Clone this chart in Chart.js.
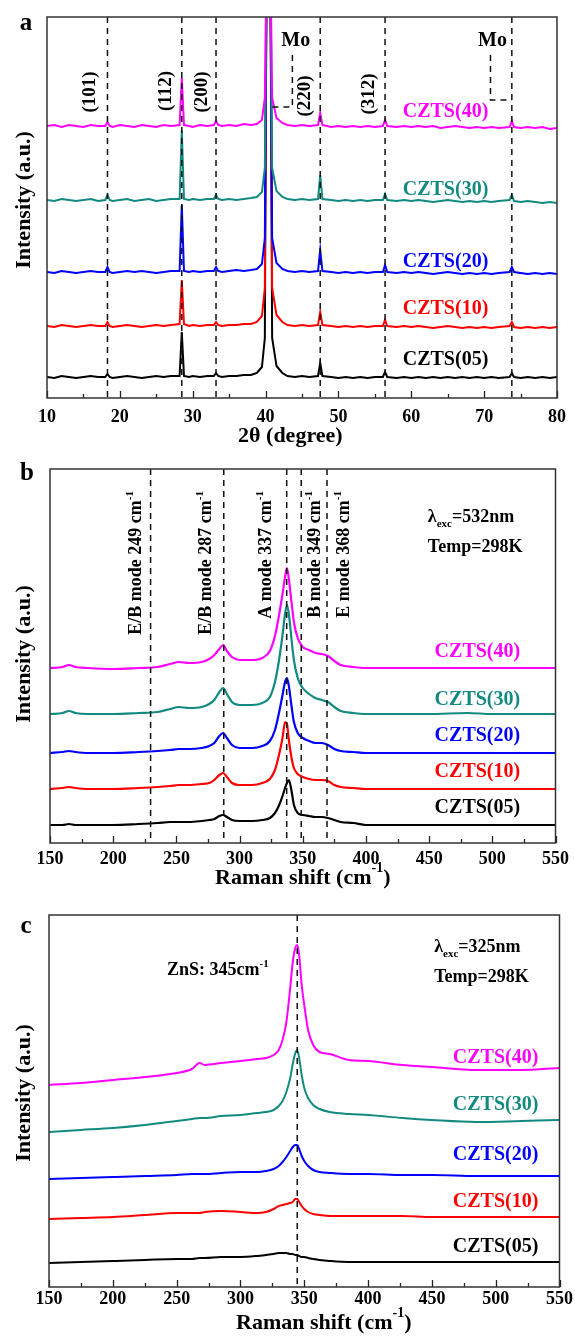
<!DOCTYPE html>
<html>
<head>
<meta charset="utf-8">
<script src="https://cdn.jsdelivr.net/npm/chart.js@4.4.0/dist/chart.umd.min.js"></script>
<style>
  html, body { margin: 0; padding: 0; background: #fff; }
  #wrap { position: relative; width: 575px; height: 1339px; overflow: hidden; }
  canvas { position: absolute; left: 0; }
</style>
</head>
<body>
<div id="wrap">
  <canvas id="xrdChart" width="575" height="450" style="top:0"></canvas>
  <canvas id="raman532Chart" width="575" height="445" style="top:450px"></canvas>
  <canvas id="raman325Chart" width="575" height="444" style="top:895px"></canvas>
</div>
<script>
// ---- shared ----
const samples = ['CZTS(40)', 'CZTS(30)', 'CZTS(20)', 'CZTS(10)', 'CZTS(05)'];
const sampleColors = ['#ff00ff', '#128a80', '#0000ff', '#ff0000', '#000000'];

// ---- (a) XRD ----
const xrdAngle = [10,11,12,13,14,15,16,17,18.0,18.3,18.6,19,20,21,22,23,24,25,26,27,28.2,28.5,28.8,29.5,30,31,32,32.9,33.2,33.5,34,35,36,37,38,38.8,39.5,39.9,40.1,40.4,40.7,40.9,41.5,42.3,43,44,45,46,47.2,47.5,47.8,49,50,51,52,53,54,55,56.1,56.4,56.7,58,59,60,61,62,63,64,65,66,67,68,69,70,71,72,73.5,73.8,74.1,75,76,77,78,79,80];
const xrd40 = [272,273,271,273,272,271,273,272, 272,276,272, 271,273,272,271,273,272,271,273,272, 273,320,273, 272, 271,273,272, 273,277,273, 272,273,272,274,273, 274,278,300,420,620,420,300,280,275, 273,272,273,272, 273,285,273, 271,272,271,272,271,272,271, 272,278,272, 271,272,271,272,271,272,270,271,272,271,270,271,270,271,270, 271,277,271, 270,271,270,271,269,270];
const xrd30 = [198,197,199,198,197,198,199,197, 198,203,198, 197,198,199,197,198,199,197,198,199, 199,268,199, 198, 199,198,199, 199,203,199, 198,199,198,199,200, 201,206,230,400,620,400,230,207,201, 199,198,199,198, 199,223,199, 198,197,198,197,198,197,198, 198,204,198, 197,198,197,198,197,196,197,198,197,196,197,196,197,196,197, 198,203,197, 196,197,196,195,196,195];
const xrd20 = [126,125,127,126,125,126,127,126, 126,131,126, 125,126,127,126,127,126,125,126,127, 127,193,127, 126, 127,126,127, 127,131,127, 126,127,128,127,128, 129,134,160,380,620,380,160,135,129, 127,126,127,126, 127,148,127, 126,125,126,125,126,125,126, 126,133,126, 125,126,125,126,125,124,125,126,125,124,125,124,125,124,125, 126,131,126, 125,124,125,124,125,124];
const xrd10 = [72,71,73,72,71,72,73,72, 72,76,72, 71,72,73,72,71,72,73,72,73, 74,118,74, 72, 73,72,73, 73,76,73, 72,73,73,74,74, 76,82,110,380,620,380,110,83,76, 73,72,73,72, 73,86,73, 72,71,72,71,72,71,72, 72,78,72, 71,72,71,72,71,70,71,72,71,70,71,70,71,70,71, 72,76,71, 70,71,70,71,70,71];
const xrd05 = [21,20,22,21,20,21,22,21, 21,24,21, 20,21,22,21,20,21,22,21,22, 22,66,22, 21, 22,21,22, 22,25,22, 21,22,22,23,23, 25,31,60,380,620,380,60,32,25, 22,21,22,21, 22,35,22, 21,20,21,20,21,20,21, 21,26,21, 20,21,20,21,20,21,20,21,20,21,20,21,20,21,20, 21,25,21, 20,21,20,21,20,21];
const xrdPlanes = [18.3, 28.5, 33.2, 47.5, 56.4, 73.8];
const xrdPlaneLabels = ['(101)', '(112)', '(200)', '(220)', '(312)'];

// ---- (b) Raman, 532 nm ----
const shift532 = [150,160,165,170,180,200,220,235,245,252,260,270,276,280,284,287,290,294,300,310,318,324,328,331,334,336,337.5,339,341,343,346,350,355,360,365,370,375,380,390,400,420,450,480,500,520,550];
const r532_40 = [175,176,178,176,175,174,175,176,179,181,180,181,184,188,194,198,192,186,183,183,185,192,207,226,249,266,275,264,242,221,205,196,193,190,189,187,182,178,176,175,175,175,175,175,175,175];
const r532_30 = [129,130,132,130,129,129,130,131,134,136,135,136,139,143,151,155,149,141,138,138,140,146,161,181,208,229,238,229,205,183,165,155,149,145,143,141,136,132,130,129,129,129,130,129,129,129];
const r532_20 = [90,91,92,91,90,90,91,92,93,94,94,95,97,100,107,110,105,98,95,95,97,102,113,129,148,161,165,157,138,121,110,105,102,100,100,98,94,92,91,90,90,90,90,90,90,90];
const r532_10 = [54,55,56,55,54,54,55,56,57,58,58,59,60,63,68,70,66,60,58,58,60,64,73,87,105,121,119,103,86,75,69,66,64,63,63,62,58,56,55,54,54,54,54,54,54,54];
const r532_05 = [18,18,19,18,18,18,19,20,21,21,21,22,23,24,27,28,26,23,22,22,23,25,30,37,47,55,60,63,53,38,30,28,27,26,26,25,23,21,20,18,18,18,18,18,18,18];
const modeShifts = [229.6, 287.5, 337.3, 348.8, 369.2];
const modeLabels = ['E/B mode 249 cm', 'E/B mode 287 cm', 'A mode 337 cm', 'B mode 349 cm', 'E mode 368 cm'];

// ---- (c) Raman, 325 nm ----
const shift325 = [150,175,200,225,250,262,268,272,285,300,313,320,326,330,333,336,339,341,343,344.5,346,348,350,353,357,362,370,385,400,427,450,485,520,550];
const r325_40 = [202,204,207,210,214,218,224,222,224,226,228,229,232,237,247,265,299,325,339,342,332,302,282,257,242,235,233,227,226,222,220,217,217,219];
const r325_30 = [155,157,159,162,166,168,169,169,171,172,174,175,177,181,186,195,209,223,234,237,229,212,199,189,182,178,175,173,172,169,167,165,166,167];
const r325_20 = [108,109,110,111,112,113,113,113,114,115,115,116,118,121,125,130,136,140,142,142,138,131,126,121,117,115,114,113,113,112,112,111,111,111];
const r325_10 = [68,69,70,72,74,74,74,75,76,75,74,75,78,81,82,83,84,85,88,88,85,81,78,75,73,72,71,71,71,71,70,70,70,70];
const r325_05 = [24,25,26,27,28,28,29,29,30,30,31,32,33,34,34,34,33,33,32,32,31,30,30,29,28,27,26,25,25,25,25,25,25,25];
const znsShift = 344.5;

// ---- drawing helpers ----
const SERIF = '"Liberation Serif", "Times New Roman", serif';
Chart.defaults.font.family = SERIF;
function font(size) { return 'bold ' + size + 'px ' + SERIF; }

// text with optional super/subscript parts, optionally rotated to read bottom-to-top
function rich(ctx, parts, px, py, o) {
    const size = o.size;
    const small = Math.round(size * 0.62);
    let total = 0;
    const widths = parts.map(p => {
        ctx.font = font(p.sup || p.sub ? small : size);
        const w = ctx.measureText(p.t).width;
        total += w;
        return w;
    });
    ctx.save();
    ctx.translate(px, py);
    if (o.rotate) ctx.rotate(-Math.PI / 2);
    ctx.fillStyle = o.color || '#000';
    ctx.textAlign = 'left';
    ctx.textBaseline = o.baseline || 'alphabetic';
    let cx = o.align === 'center' ? -total / 2 : o.align === 'right' ? -total : 0;
    parts.forEach((p, i) => {
        ctx.font = font(p.sup || p.sub ? small : size);
        const dy = p.sup ? -size * 0.45 : p.sub ? size * 0.28 : 0;
        ctx.fillText(p.t, cx, dy);
        cx += widths[i];
    });
    ctx.restore();
}

function dashedPath(ctx, pts) {
    ctx.save();
    ctx.strokeStyle = '#111';
    ctx.lineWidth = 1.5;
    ctx.setLineDash([6, 5]);
    ctx.beginPath();
    pts.forEach((p, i) => i ? ctx.lineTo(p[0], p[1]) : ctx.moveTo(p[0], p[1]));
    ctx.stroke();
    ctx.restore();
}

// frame, inward ticks, reference lines and labels of one panel
function decor(spec) {
    return {
        id: 'decor',
        afterDraw(chart) {
            const { ctx, chartArea: area, scales: { x, y } } = chart;
            ctx.save();

            spec.dashed.forEach(v => {
                const px = x.getPixelForValue(v);
                dashedPath(ctx, [[px, area.top], [px, area.bottom]]);
            });

            // inward ticks on the bottom axis
            ctx.strokeStyle = '#222';
            ctx.lineWidth = 1.3;
            let i = 0;
            for (let v = spec.xMin; v <= spec.xMax + 1e-9; v += spec.minorStep, i++) {
                const px = Math.round(x.getPixelForValue(v)) + 0.5;
                const len = i % 2 === 0 ? 7 : 4;
                ctx.beginPath();
                ctx.moveTo(px, area.bottom);
                ctx.lineTo(px, area.bottom - len);
                ctx.stroke();
            }

            ctx.strokeStyle = '#333';
            ctx.lineWidth = 1.5;
            ctx.strokeRect(area.left, area.top, area.right - area.left, area.bottom - area.top);

            spec.notes(ctx, x, y, area);

            // sample names
            samples.forEach((name, k) => {
                rich(ctx, [{ t: name }], x.getPixelForValue(spec.nameX), y.getPixelForValue(spec.nameY[k]),
                    { size: 20, align: 'center', baseline: 'middle', color: sampleColors[k] });
            });

            // axis titles and panel letter
            rich(ctx, spec.xTitle, x.getPixelForValue(spec.xTitleAt), area.bottom + spec.xTitleDy,
                { size: 22, align: 'center', baseline: 'middle' });
            rich(ctx, [{ t: 'Intensity (a.u.)' }], 24, y.getPixelForValue(spec.yTitleAt),
                { size: 22, align: 'center', baseline: 'middle', rotate: true });
            rich(ctx, [{ t: spec.letter }], spec.letterPos[0], spec.letterPos[1],
                { size: 25, align: 'center', baseline: 'middle' });
            ctx.restore();
        }
    };
}

function makePanel(canvasId, xs, series, spec) {
    const datasets = series.map((ys, k) => ({
        label: samples[k],
        data: xs.map((v, j) => ({ x: v, y: ys[j] })),
        borderColor: sampleColors[k],
        borderWidth: spec.lineWidth,
        pointRadius: 0,
        tension: 0,
        cubicInterpolationMode: spec.smooth ? 'monotone' : 'default'
    }));
    return new Chart(document.getElementById(canvasId), {
        type: 'line',
        data: { datasets },
        options: {
            responsive: false,
            animation: false,
            devicePixelRatio: 1,
            layout: { padding: spec.padding },
            plugins: { legend: { display: false }, tooltip: { enabled: false } },
            scales: {
                x: {
                    type: 'linear', min: spec.xMin, max: spec.xMax,
                    grid: { display: false, drawTicks: false },
                    border: { display: false },
                    ticks: {
                        stepSize: spec.majorStep, padding: spec.tickPad,
                        maxRotation: 0, autoSkip: false, color: '#000',
                        font: { family: SERIF, size: 18, weight: 'bold' }
                    },
                    afterFit: s => { s.height = 52; }
                },
                y: { display: false, min: 0, max: spec.yMax }
            }
        },
        plugins: [decor(spec)]
    });
}

// ---- panel a ----
makePanel('xrdChart', xrdAngle, [xrd40, xrd30, xrd20, xrd10, xrd05], {
    xMin: 10, xMax: 80, majorStep: 10, minorStep: 5, yMax: 381,
    padding: { left: 47, right: 10.5, top: 17, bottom: 0 }, tickPad: 9,
    lineWidth: 2, smooth: false,
    dashed: xrdPlanes,
    nameX: 64.7, nameY: [286, 208, 136, 89, 38],
    xTitle: [{ t: '2θ (degree)' }], xTitleAt: 43.4, xTitleDy: 38,
    yTitleAt: 198, letter: 'a', letterPos: [26, 24],
    notes(ctx, x, y) {
        const at = [16.63, 27.04, 31.91, 46.12, 54.91];
        const lv = [306, 307, 306, 302, 304];
        xrdPlaneLabels.forEach((t, i) => {
            rich(ctx, [{ t }], x.getPixelForValue(at[i]), y.getPixelForValue(lv[i]),
                { size: 19, align: 'center', rotate: true });
        });
        // Mo substrate markers
        [[44.15, 43.68, 40.57, 291], [71.14, 70.87, 73.8, 298]].forEach(m => {
            rich(ctx, [{ t: 'Mo' }], x.getPixelForValue(m[0]), y.getPixelForValue(357),
                { size: 20, align: 'center', baseline: 'middle' });
            dashedPath(ctx, [
                [x.getPixelForValue(m[1]), y.getPixelForValue(343)],
                [x.getPixelForValue(m[1]), y.getPixelForValue(m[3])],
                [x.getPixelForValue(m[2]), y.getPixelForValue(m[3])]
            ]);
        });
    }
});

// ---- panel b ----
makePanel('raman532Chart', shift532, [r532_40, r532_30, r532_20, r532_10, r532_05], {
    xMin: 150, xMax: 550, majorStep: 50, minorStep: 25, yMax: 374,
    padding: { left: 50, right: 14, top: 19, bottom: 0 }, tickPad: 6,
    lineWidth: 2.2, smooth: true,
    dashed: modeShifts,
    nameX: 488.2, nameY: [191, 143, 107, 71, 35],
    xTitle: [{ t: 'Raman shift (cm' }, { t: '-1', sup: true }, { t: ')' }], xTitleAt: 350, xTitleDy: 35,
    yTitleAt: 189, letter: 'b', letterPos: [27, 24],
    notes(ctx, x, y) {
        const at = [222.0, 277.6, 324.6, 363.7, 386.4];
        modeLabels.forEach((t, i) => {
            rich(ctx, [{ t }, { t: '-1', sup: true }], x.getPixelForValue(at[i]), y.getPixelForValue(352),
                { size: 18, align: 'right', rotate: true });
        });
        rich(ctx, [{ t: 'λ' }, { t: 'exc', sub: true }, { t: '=532nm' }], x.getPixelForValue(449), y.getPixelForValue(321), { size: 18 });
        rich(ctx, [{ t: 'Temp=298K' }], x.getPixelForValue(449), y.getPixelForValue(291), { size: 18 });
    }
});

// ---- panel c ----
makePanel('raman325Chart', shift325, [r325_40, r325_30, r325_20, r325_10, r325_05], {
    xMin: 150, xMax: 550, majorStep: 50, minorStep: 25, yMax: 372,
    padding: { left: 49, right: 15, top: 20, bottom: 0 }, tickPad: 2,
    lineWidth: 2, smooth: true,
    dashed: [znsShift],
    nameX: 499.9, nameY: [229, 182, 132, 85, 40],
    xTitle: [{ t: 'Raman shift (cm' }, { t: '-1', sup: true }, { t: ')' }], xTitleAt: 365.3, xTitleDy: 36,
    yTitleAt: 194, letter: 'c', letterPos: [26, 32],
    notes(ctx, x, y) {
        rich(ctx, [{ t: 'ZnS: 345cm' }, { t: '-1', sup: true }], x.getPixelForValue(242.5), y.getPixelForValue(312), { size: 18 });
        rich(ctx, [{ t: 'λ' }, { t: 'exc', sub: true }, { t: '=325nm' }], x.getPixelForValue(451.8), y.getPixelForValue(335), { size: 18 });
        rich(ctx, [{ t: 'Temp=298K' }], x.getPixelForValue(451.8), y.getPixelForValue(305), { size: 18 });
    }
});
</script>
</body>
</html>
